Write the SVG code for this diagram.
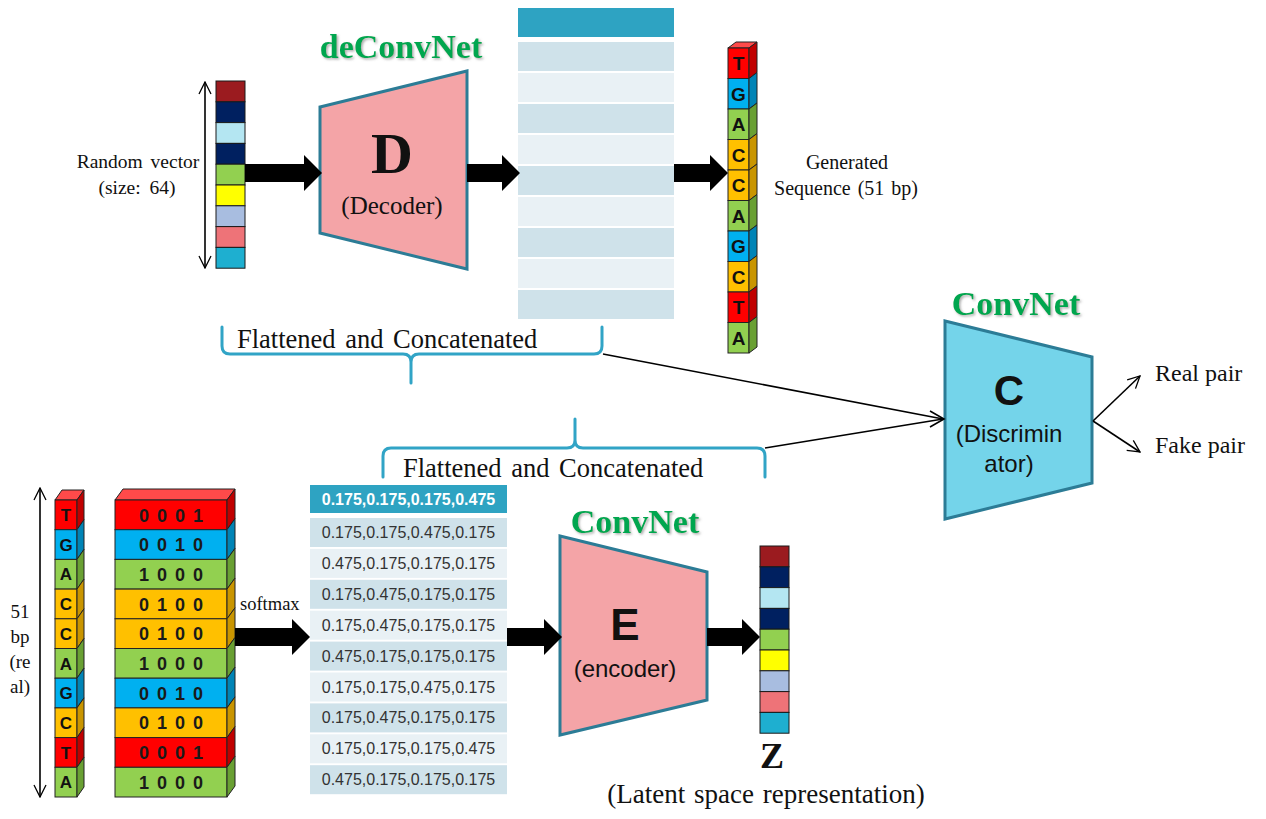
<svg xmlns="http://www.w3.org/2000/svg" width="1266" height="819" viewBox="0 0 1266 819">
<defs>
<marker id="open" viewBox="0 0 14 14" refX="13" refY="7" markerWidth="14" markerHeight="14" markerUnits="userSpaceOnUse" orient="auto-start-reverse"><path d="M1,1 L13,7 L1,13" fill="none" stroke="#000" stroke-width="1.3"/></marker>
<filter id="sh" x="-10%" y="-20%" width="130%" height="150%"><feDropShadow dx="1.5" dy="1.5" stdDeviation="1" flood-color="#777" flood-opacity="0.6"/></filter>
</defs>
<style>
.serif{font-family:"Liberation Serif","Times New Roman",serif;fill:#111}
.sans{font-family:"Liberation Sans",Arial,sans-serif;fill:#111}
.green{font-family:"Liberation Serif","Times New Roman",serif;font-weight:bold;font-size:34px;fill:#00a650}
.cell{stroke:#1a1a1a;stroke-width:1}
.blk{stroke:#222;stroke-width:1}
.tz{stroke:#2c7c96;stroke-width:3;stroke-linejoin:miter}
.hd{fill:#2ea3c2}
.dk{fill:#cfe2ea}
.lt{fill:#e9f1f5}
.R{fill:#ff0000}.Rs{fill:#c00000}.Rt{fill:#ff4a4a}
.B{fill:#00b0f0}.Bs{fill:#0084b6}
.G{fill:#92d050}.Gs{fill:#69a033}
.O{fill:#ffc000}.Os{fill:#c99500}
.let{font-family:"Liberation Sans",Arial,sans-serif;font-weight:bold;fill:#111;text-anchor:middle}
.oh{font-family:"Liberation Sans",Arial,sans-serif;font-weight:bold;font-size:18px;fill:#1a1a1a;text-anchor:middle;letter-spacing:8px}
.tb{font-family:"Liberation Sans",Arial,sans-serif;font-size:16px;fill:#333;text-anchor:middle}
.brace{fill:none;stroke:#31a4c6;stroke-width:3;stroke-linecap:round}
.thin{stroke:#000;stroke-width:1.6;fill:none}
.big{fill:#000}
</style>

<!-- Random vector -->
<g id="random-vector">
<rect class="cell" x="216" y="81" width="29" height="20.8" fill="#9b1b1f"/>
<rect class="cell" x="216" y="101.8" width="29" height="20.8" fill="#002060"/>
<rect class="cell" x="216" y="122.6" width="29" height="20.8" fill="#b4e6f2"/>
<rect class="cell" x="216" y="143.4" width="29" height="20.8" fill="#002060"/>
<rect class="cell" x="216" y="164.2" width="29" height="20.8" fill="#92d050"/>
<rect class="cell" x="216" y="185" width="29" height="20.8" fill="#ffff00"/>
<rect class="cell" x="216" y="205.8" width="29" height="20.8" fill="#a8bde0"/>
<rect class="cell" x="216" y="226.6" width="29" height="20.8" fill="#ee7378"/>
<rect class="cell" x="216" y="247.4" width="29" height="20.8" fill="#1eafd0"/>
<line class="thin" x1="205" y1="82" x2="205" y2="268" stroke-width="1.2" marker-start="url(#open)" marker-end="url(#open)"/>
<text class="serif" x="138" y="168" font-size="19.5" text-anchor="middle" word-spacing="3">Random vector</text>
<text class="serif" x="137" y="194" font-size="19.5" text-anchor="middle" word-spacing="4">(size: 64)</text>
</g>

<!-- Decoder -->
<g id="decoder">
<text class="green" x="401" y="58" text-anchor="middle" filter="url(#sh)">deConvNet</text>
<polygon class="tz" points="320,107 467,71 467,269 320,233" fill="#f4a4a7"/>
<text class="serif" x="392" y="173" font-size="58" font-weight="bold" text-anchor="middle">D</text>
<text class="serif" x="392" y="214" font-size="25" text-anchor="middle">(Decoder)</text>
</g>

<!-- Top feature column -->
<g id="top-column">
<rect class="hd" x="518" y="8" width="156" height="29"/>
<rect class="dk" x="518" y="42" width="156" height="29"/>
<rect class="lt" x="518" y="73" width="156" height="29"/>
<rect class="dk" x="518" y="104" width="156" height="29"/>
<rect class="lt" x="518" y="135" width="156" height="29"/>
<rect class="dk" x="518" y="166" width="156" height="29"/>
<rect class="lt" x="518" y="197" width="156" height="29"/>
<rect class="dk" x="518" y="228" width="156" height="29"/>
<rect class="lt" x="518" y="259" width="156" height="29"/>
<rect class="dk" x="518" y="290" width="156" height="29"/>
</g>

<!-- Generated sequence -->
<g id="generated-sequence">
<polygon class="blk Rt" points="728,48 736,42 757,42 749,48"/>
<rect class="blk R" x="728" y="48" width="21" height="30.5"/><polygon class="blk Rs" points="749,48 757,42 757,72.5 749,78.5"/><text class="let" x="738.5" y="70" font-size="19">T</text>
<rect class="blk B" x="728" y="78.5" width="21" height="30.5"/><polygon class="blk Bs" points="749,78.5 757,72.5 757,103 749,109"/><text class="let" x="738.5" y="100.5" font-size="19">G</text>
<rect class="blk G" x="728" y="109" width="21" height="30.5"/><polygon class="blk Gs" points="749,109 757,103 757,133.5 749,139.5"/><text class="let" x="738.5" y="131" font-size="19">A</text>
<rect class="blk O" x="728" y="139.5" width="21" height="30.5"/><polygon class="blk Os" points="749,139.5 757,133.5 757,164 749,170"/><text class="let" x="738.5" y="161.5" font-size="19">C</text>
<rect class="blk O" x="728" y="170" width="21" height="30.5"/><polygon class="blk Os" points="749,170 757,164 757,194.5 749,200.5"/><text class="let" x="738.5" y="192" font-size="19">C</text>
<rect class="blk G" x="728" y="200.5" width="21" height="30.5"/><polygon class="blk Gs" points="749,200.5 757,194.5 757,225 749,231"/><text class="let" x="738.5" y="222.5" font-size="19">A</text>
<rect class="blk B" x="728" y="231" width="21" height="30.5"/><polygon class="blk Bs" points="749,231 757,225 757,255.5 749,261.5"/><text class="let" x="738.5" y="253" font-size="19">G</text>
<rect class="blk O" x="728" y="261.5" width="21" height="30.5"/><polygon class="blk Os" points="749,261.5 757,255.5 757,286 749,292"/><text class="let" x="738.5" y="283.5" font-size="19">C</text>
<rect class="blk R" x="728" y="292" width="21" height="30.5"/><polygon class="blk Rs" points="749,292 757,286 757,316.5 749,322.5"/><text class="let" x="738.5" y="314" font-size="19">T</text>
<rect class="blk G" x="728" y="322.5" width="21" height="30.5"/><polygon class="blk Gs" points="749,322.5 757,316.5 757,347 749,353"/><text class="let" x="738.5" y="344.5" font-size="19">A</text>
<text class="serif" x="847" y="169" font-size="20" text-anchor="middle">Generated</text>
<text class="serif" x="846" y="195" font-size="20" text-anchor="middle" word-spacing="2">Sequence (51 bp)</text>
</g>

<!-- Braces -->
<g id="brace-top">
<path class="brace" d="M222,327 L222,346 Q222,354 230,354 L403,354 Q411,354 411,362 L411,383 M411,362 Q411,354 419,354 L594,354 Q602,354 602,346 L602,327"/>
<text class="serif" x="237" y="348" font-size="26.5" word-spacing="3">Flattened and Concatenated</text>
</g>
<g id="brace-bottom">
<path class="brace" d="M383,477 L383,456 Q383,448 391,448 L567,448 Q575,448 575,440 L575,419 M575,440 Q575,448 583,448 L757,448 Q765,448 765,456 L765,477"/>
<text class="serif" x="403" y="477" font-size="26.5" word-spacing="3">Flattened and Concatenated</text>
</g>

<!-- Discriminator -->
<g id="discriminator">
<text class="green" x="1016" y="315" text-anchor="middle" filter="url(#sh)">ConvNet</text>
<polygon class="tz" points="945,321 1092,357 1092,483 945,519" fill="#74d4ea" stroke="#267a94"/>
<text class="sans" x="1009" y="405" font-size="42" font-weight="bold" text-anchor="middle">C</text>
<text class="sans" x="1009" y="442" font-size="24" text-anchor="middle">(Discrimin</text>
<text class="sans" x="1009" y="472" font-size="24" text-anchor="middle">ator)</text>
</g>
<g id="outputs">
<text class="serif" x="1155" y="381" font-size="24">Real pair</text>
<text class="serif" x="1155" y="453" font-size="24">Fake pair</text>
</g>

<!-- Real sequence -->
<g id="real-sequence">
<line class="thin" x1="40" y1="488" x2="40" y2="797" stroke-width="1.2" marker-start="url(#open)" marker-end="url(#open)"/>
<text class="serif" x="20" y="618" font-size="19" text-anchor="middle">51</text>
<text class="serif" x="20" y="643" font-size="19" text-anchor="middle">bp</text>
<text class="serif" x="20" y="668" font-size="19" text-anchor="middle">(re</text>
<text class="serif" x="20" y="693" font-size="19" text-anchor="middle">al)</text>
<polygon class="blk Rt" points="55,500 62,490 84,490 77,500"/>
<rect class="blk R" x="55" y="500" width="22" height="29.7"/><polygon class="blk Rs" points="77,500 84,490 84,519.7 77,529.7"/><text class="let" x="66" y="521" font-size="17">T</text>
<rect class="blk B" x="55" y="529.7" width="22" height="29.7"/><polygon class="blk Bs" points="77,529.7 84,519.7 84,549.4 77,559.4"/><text class="let" x="66" y="550.7" font-size="17">G</text>
<rect class="blk G" x="55" y="559.4" width="22" height="29.7"/><polygon class="blk Gs" points="77,559.4 84,549.4 84,579.1 77,589.1"/><text class="let" x="66" y="580.4" font-size="17">A</text>
<rect class="blk O" x="55" y="589.1" width="22" height="29.7"/><polygon class="blk Os" points="77,589.1 84,579.1 84,608.8 77,618.8"/><text class="let" x="66" y="610.1" font-size="17">C</text>
<rect class="blk O" x="55" y="618.8" width="22" height="29.7"/><polygon class="blk Os" points="77,618.8 84,608.8 84,638.5 77,648.5"/><text class="let" x="66" y="639.8" font-size="17">C</text>
<rect class="blk G" x="55" y="648.5" width="22" height="29.7"/><polygon class="blk Gs" points="77,648.5 84,638.5 84,668.2 77,678.2"/><text class="let" x="66" y="669.5" font-size="17">A</text>
<rect class="blk B" x="55" y="678.2" width="22" height="29.7"/><polygon class="blk Bs" points="77,678.2 84,668.2 84,697.9 77,707.9"/><text class="let" x="66" y="699.2" font-size="17">G</text>
<rect class="blk O" x="55" y="707.9" width="22" height="29.7"/><polygon class="blk Os" points="77,707.9 84,697.9 84,727.6 77,737.6"/><text class="let" x="66" y="728.9" font-size="17">C</text>
<rect class="blk R" x="55" y="737.6" width="22" height="29.7"/><polygon class="blk Rs" points="77,737.6 84,727.6 84,757.3 77,767.3"/><text class="let" x="66" y="758.6" font-size="17">T</text>
<rect class="blk G" x="55" y="767.3" width="22" height="29.7"/><polygon class="blk Gs" points="77,767.3 84,757.3 84,787 77,797"/><text class="let" x="66" y="788.3" font-size="17">A</text>
</g>

<!-- One-hot encoding -->
<g id="one-hot">
<polygon class="blk Rt" points="115,500 123,489 235,489 227,500"/>
<rect class="blk R" x="115" y="500" width="112" height="29.7"/><polygon class="blk Rs" points="227,500 235,489 235,518.7 227,529.7"/><text class="oh" x="175" y="521.5">0001</text>
<rect class="blk B" x="115" y="529.7" width="112" height="29.7"/><polygon class="blk Bs" points="227,529.7 235,518.7 235,548.4 227,559.4"/><text class="oh" x="175" y="551.2">0010</text>
<rect class="blk G" x="115" y="559.4" width="112" height="29.7"/><polygon class="blk Gs" points="227,559.4 235,548.4 235,578.1 227,589.1"/><text class="oh" x="175" y="580.9">1000</text>
<rect class="blk O" x="115" y="589.1" width="112" height="29.7"/><polygon class="blk Os" points="227,589.1 235,578.1 235,607.8 227,618.8"/><text class="oh" x="175" y="610.6">0100</text>
<rect class="blk O" x="115" y="618.8" width="112" height="29.7"/><polygon class="blk Os" points="227,618.8 235,607.8 235,637.5 227,648.5"/><text class="oh" x="175" y="640.3">0100</text>
<rect class="blk G" x="115" y="648.5" width="112" height="29.7"/><polygon class="blk Gs" points="227,648.5 235,637.5 235,667.2 227,678.2"/><text class="oh" x="175" y="670">1000</text>
<rect class="blk B" x="115" y="678.2" width="112" height="29.7"/><polygon class="blk Bs" points="227,678.2 235,667.2 235,696.9 227,707.9"/><text class="oh" x="175" y="699.7">0010</text>
<rect class="blk O" x="115" y="707.9" width="112" height="29.7"/><polygon class="blk Os" points="227,707.9 235,696.9 235,726.6 227,737.6"/><text class="oh" x="175" y="729.4">0100</text>
<rect class="blk R" x="115" y="737.6" width="112" height="29.7"/><polygon class="blk Rs" points="227,737.6 235,726.6 235,756.3 227,767.3"/><text class="oh" x="175" y="759.1">0001</text>
<rect class="blk G" x="115" y="767.3" width="112" height="29.7"/><polygon class="blk Gs" points="227,767.3 235,756.3 235,786 227,797"/><text class="oh" x="175" y="788.8">1000</text>
<text class="serif" x="240" y="610" font-size="18.5">softmax</text>
</g>

<!-- Softmax table -->
<g id="softmax-table">
<rect class="hd" x="310" y="485" width="197" height="28"/>
<text class="tb" x="408.5" y="505" font-weight="bold" style="fill:#fff">0.175,0.175,0.175,0.475</text>
<rect class="dk" x="310" y="518" width="197" height="29"/><text class="tb" x="408.5" y="538">0.175,0.175,0.475,0.175</text>
<rect class="lt" x="310" y="548.9" width="197" height="29"/><text class="tb" x="408.5" y="568.9">0.475,0.175,0.175,0.175</text>
<rect class="dk" x="310" y="579.8" width="197" height="29"/><text class="tb" x="408.5" y="599.8">0.175,0.475,0.175,0.175</text>
<rect class="lt" x="310" y="610.7" width="197" height="29"/><text class="tb" x="408.5" y="630.7">0.175,0.475,0.175,0.175</text>
<rect class="dk" x="310" y="641.6" width="197" height="29"/><text class="tb" x="408.5" y="661.6">0.475,0.175,0.175,0.175</text>
<rect class="lt" x="310" y="672.5" width="197" height="29"/><text class="tb" x="408.5" y="692.5">0.175,0.175,0.475,0.175</text>
<rect class="dk" x="310" y="703.4" width="197" height="29"/><text class="tb" x="408.5" y="723.4">0.175,0.475,0.175,0.175</text>
<rect class="lt" x="310" y="734.3" width="197" height="29"/><text class="tb" x="408.5" y="754.3">0.175,0.175,0.175,0.475</text>
<rect class="dk" x="310" y="765.2" width="197" height="29"/><text class="tb" x="408.5" y="785.2">0.475,0.175,0.175,0.175</text>
</g>

<!-- Encoder -->
<g id="encoder">
<text class="green" x="635" y="533" text-anchor="middle" filter="url(#sh)">ConvNet</text>
<polygon class="tz" points="560,536 707,572 707,700 560,735" fill="#f4a4a7"/>
<text class="sans" x="625" y="640" font-size="44" font-weight="bold" text-anchor="middle">E</text>
<text class="sans" x="625" y="677" font-size="24" text-anchor="middle">(encoder)</text>
</g>

<!-- Latent vector Z -->
<g id="latent-z">
<rect class="cell" x="760" y="546" width="29" height="20.8" fill="#9b1b1f"/>
<rect class="cell" x="760" y="566.8" width="29" height="20.8" fill="#002060"/>
<rect class="cell" x="760" y="587.6" width="29" height="20.8" fill="#b4e6f2"/>
<rect class="cell" x="760" y="608.4" width="29" height="20.8" fill="#002060"/>
<rect class="cell" x="760" y="629.2" width="29" height="20.8" fill="#92d050"/>
<rect class="cell" x="760" y="650" width="29" height="20.8" fill="#ffff00"/>
<rect class="cell" x="760" y="670.8" width="29" height="20.8" fill="#a8bde0"/>
<rect class="cell" x="760" y="691.6" width="29" height="20.8" fill="#ee7378"/>
<rect class="cell" x="760" y="712.4" width="29" height="20.8" fill="#1eafd0"/>
<text class="serif" x="772" y="768" font-size="36" font-weight="bold" text-anchor="middle">Z</text>
<text class="serif" x="766" y="803" font-size="27" text-anchor="middle" word-spacing="2">(Latent space representation)</text>
</g>

<!-- Connectors -->
<g id="connectors">
<polygon class="big" points="245,164 304,164 304,155 322,173 304,191 304,182 245,182"/>
<polygon class="big" points="467,164 502,164 502,155 520,173 502,191 502,182 467,182"/>
<polygon class="big" points="674,164 710,164 710,155 728,173 710,191 710,182 674,182"/>
<polygon class="big" points="235,628 292,628 292,619 310,637 292,655 292,646 235,646"/>
<polygon class="big" points="507,628 544,628 544,619 562,637 544,655 544,646 507,646"/>
<polygon class="big" points="707,628 742,628 742,619 760,637 742,655 742,646 707,646"/>
<line class="thin" x1="603" y1="354" x2="943" y2="419"/>
<line class="thin" x1="765" y1="448" x2="943" y2="419"/>
<polyline class="thin" points="930,411 944,419 930,427"/>
<line class="thin" x1="1093" y1="421" x2="1140" y2="376" stroke-width="1.2" marker-end="url(#open)"/>
<line class="thin" x1="1093" y1="421" x2="1140" y2="452" stroke-width="1.2" marker-end="url(#open)"/>
</g>
</svg>
